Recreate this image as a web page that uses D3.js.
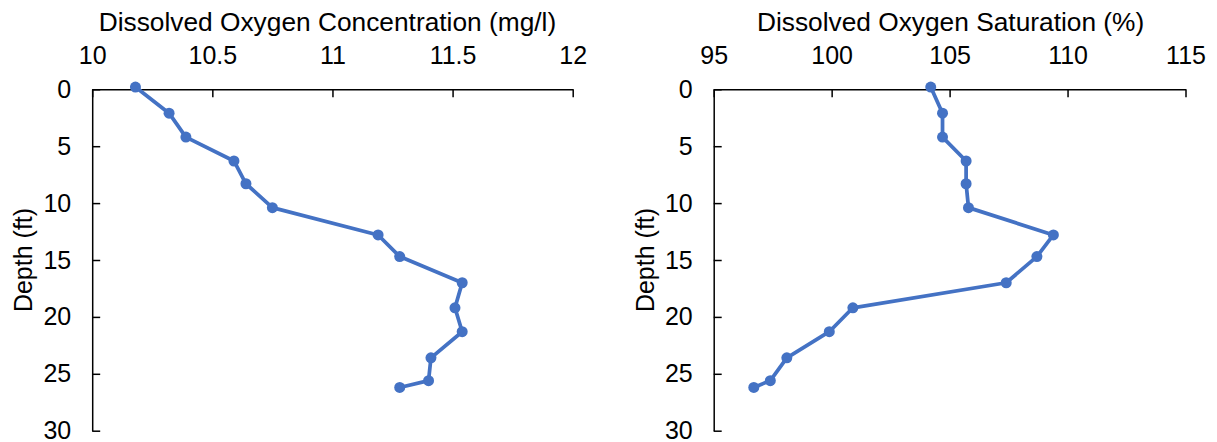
<!DOCTYPE html>
<html><head><meta charset="utf-8">
<script src="https://cdn.jsdelivr.net/npm/d3@7"></script>
<style>
body{margin:0;background:#fff}
svg text{font-family:"Liberation Sans",Arial,sans-serif;fill:#000}
</style>
</head><body>
<svg id="chart" width="1217" height="442"></svg>
<script>
// ---- data ----
const depthFt = [-0.2, 2.1, 4.2, 6.3, 8.3, 10.4, 12.8, 14.7, 17.0, 19.2, 21.3, 23.6, 25.6, 26.2];
const doConcentration = [10.18, 10.32, 10.39, 10.59, 10.64, 10.75, 11.19, 11.28, 11.54, 11.51, 11.54, 11.41, 11.40, 11.28];
const doSaturation = [104.2, 104.7, 104.7, 105.7, 105.7, 105.8, 109.4, 108.7, 107.4, 100.9, 99.9, 98.1, 97.4, 96.7];
const concTicks = [10, 10.5, 11, 11.5, 12];
const satTicks = [95, 100, 105, 110, 115];
const depthTicks = [0, 5, 10, 15, 20, 25, 30];
const concTitle = "Dissolved Oxygen Concentration (mg/l)";
const satTitle = "Dissolved Oxygen Saturation (%)";
const depthLabel = "Depth (ft)";

const svg = d3.select("#chart");
const FONT = 25;
const TITLE_FONT = 26.3;
const plotTop = 89.3, plotBottom = 430.7;
const lineColor = "#4472C4";

function panel(x0, x1, values, ticks, title, titleShift) {
  const x = d3.scaleLinear().domain([ticks[0], ticks[ticks.length - 1]]).range([x0, x1]);
  const y = d3.scaleLinear().domain([0, 30]).range([plotTop, plotBottom]);
  const g = svg.append("g");

  const xa = g.append("g").attr("transform", `translate(0,${plotTop})`)
    .call(d3.axisTop(x).tickValues(ticks).tickFormat(d3.format("~g")).tickSize(-8).tickSizeOuter(0).tickPadding(25.5));
  const ya = g.append("g").attr("transform", `translate(${x0},0)`)
    .call(d3.axisLeft(y).tickValues(depthTicks).tickSize(-8).tickSizeOuter(0).tickPadding(21));
  [xa, ya].forEach(a => {
    a.attr("font-size", null).attr("font-family", null);
    a.selectAll("path,line").attr("stroke", "#000").attr("stroke-width", 1.5);
    a.selectAll("text").style("font-size", FONT + "px").attr("fill", "#000");
  });

  g.append("text").attr("x", (x0 + x1) / 2 + titleShift).attr("y", 31)
    .attr("text-anchor", "middle").style("font-size", TITLE_FONT + "px").text(title);
  g.append("text").attr("transform", `translate(${x0 - 60},${(plotTop + plotBottom) / 2}) rotate(-90)`)
    .attr("text-anchor", "middle").style("font-size", FONT + "px").text(depthLabel);

  const pts = values.map((v, i) => [v, depthFt[i]]);
  g.append("path").datum(pts)
    .attr("fill", "none").attr("stroke", lineColor).attr("stroke-width", 3.75)
    .attr("stroke-linejoin", "round")
    .attr("d", d3.line().x(d => x(d[0])).y(d => y(d[1])));
  g.selectAll("circle.m").data(pts).join("circle").attr("class", "m")
    .attr("cx", d => x(d[0])).attr("cy", d => y(d[1])).attr("r", 5.5).attr("fill", lineColor);
}

panel(92.2, 572.7, doConcentration, concTicks, concTitle, -5);
panel(713.7, 1185.5, doSaturation, satTicks, satTitle, 1);
</script>
</body></html>
